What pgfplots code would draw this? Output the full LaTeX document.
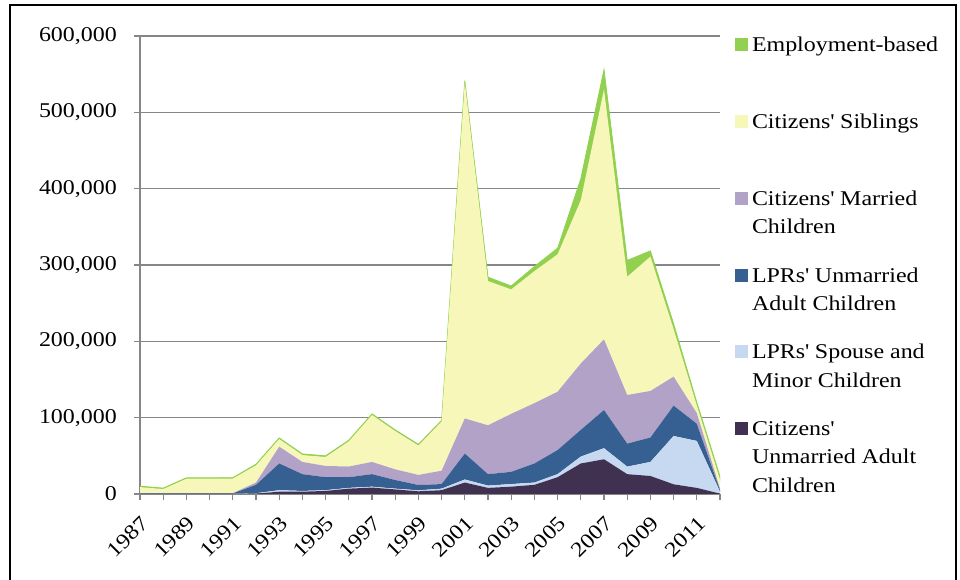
\documentclass[border=0pt]{standalone}
\usepackage{fontspec}
\setmainfont{Liberation Serif}[FakeStretch=1.14]
\usepackage{pgfplots}
\usepackage{pgfplotstable}
\pgfplotsset{compat=1.18}
\definecolor{cEmp}{RGB}{146,208,80}
\definecolor{cSib}{RGB}{247,247,185}
\definecolor{cMar}{RGB}{179,162,199}
\definecolor{cLun}{RGB}{55,96,146}
\definecolor{cLsp}{RGB}{198,217,241}
\definecolor{cCun}{RGB}{64,49,81}
\definecolor{cGrid}{RGB}{134,134,134}

\pgfplotstableread{
year D L B P Y E
1987 0 300 500 200 8000 1200
1988 0 300 500 200 5500 1200
1989 0 300 500 200 19000 1200
1990 0 300 500 200 19000 1200
1991 0 300 500 200 19200 1200
1992 500 500 11000 3000 22500 1500
1993 3000 2000 35000 22000 10000 1500
1994 3000 1000 22000 16000 9000 1500
1995 4000 1000 17000 14700 11800 1500
1996 7000 1000 14000 14000 33000 1500
1997 8400 1200 16400 16000 61500 1500
1998 6000 1000 11300 14000 50200 1500
1999 3500 1300 7000 13200 38500 1500
2000 5000 2000 6000 17500 64500 1500
2001 15000 4000 34000 46000 440000 2500
2002 8000 3000 15000 64000 189000 5000
2003 9600 3400 16000 76000 163000 4500
2004 12000 3000 25000 79000 173000 6000
2005 22000 4000 31600 76400 180000 8000
2006 40000 9000 35000 87000 214000 28000
2007 45500 14500 50000 92600 327400 26000
2008 26000 9800 30200 63700 154900 21400
2009 23600 18400 32000 61000 176000 7500
2010 12700 63300 39700 38000 62300 7000
2011 8000 61500 22500 14000 10000 4000
2012 500 2500 2000 2000 12000 4000
}\data

\newcommand{\q}{\textquotesingle}
\newcommand{\lgd}[1]{\parbox[c][76.7bp][t]{215bp}{\vspace*{-15bp}\strut #1}}
\newcommand{\chartfont}{\fontsize{21bp}{28.3bp}\selectfont}

\begin{document}
\chartfont
\begin{tikzpicture}[x=1bp,y=1bp]
\useasboundingbox (0,0) rectangle (960,580);
\draw[line width=2.5bp] (10,-20) -- (10,575) -- (956,575) -- (956,-20);
\begin{axis}[
  at={(140bp,86bp)}, anchor=south west,
  scale only axis, width=580bp, height=458bp,
  xmin=1987, xmax=2012, ymin=0, ymax=600000,
  stack plots=y,
  axis lines*=left,
  axis line style={cGrid, line width=1.2bp},
  ymajorgrids, grid style={cGrid, line width=1.1bp},
  tick style={cGrid, line width=1.1bp},
  tick align=outside, major tick length=6bp, minor tick length=6bp,
  xtick={1987,1989,...,2011}, minor xtick={1988,1990,...,2012},
  xticklabels={1987,1989,1991,1993,1995,1997,1999,2001,2003,2005,2007,2009,2011},
  ytick={0,100000,200000,300000,400000,500000,600000},
  yticklabels={0,{100,000},{200,000},{300,000},{400,000},{500,000},{600,000}},
  scaled y ticks=false,
  /pgf/number format/assume math mode=true,
  tick label style={font=\chartfont},
  xticklabel style={xshift=10bp, yshift=-15bp, rotate=45, anchor=east},
  yticklabel style={anchor=east, xshift=-10bp},
  reverse legend,
  legend style={at={(1.02586,1.00841)}, anchor=north west, draw=none, fill=none,
    inner sep=0pt, outer sep=0pt, row sep=0pt, column sep=4bp,
    nodes={inner sep=0pt, outer sep=0pt}, font=\chartfont},
  legend cell align=left,
  legend image code/.code={
    \path[fill=none,draw=none] (0bp,-38.35bp) rectangle (13bp,38.35bp);
    \fill[#1,draw=none] (0bp,19bp) rectangle (13bp,32bp);
  },
]
\addplot[fill=cCun, draw=none] table[x=year,y=D]{\data} \closedcycle;
\addlegendentry{\lgd{Citizens\q\\Unmarried Adult\\Children}}
\addplot[fill=cLsp, draw=none] table[x=year,y=L]{\data} \closedcycle;
\addlegendentry{\lgd{LPRs\q{} Spouse and\\Minor Children}}
\addplot[fill=cLun, draw=none] table[x=year,y=B]{\data} \closedcycle;
\addlegendentry{\lgd{LPRs\q{} Unmarried\\Adult Children}}
\addplot[fill=cMar, draw=none] table[x=year,y=P]{\data} \closedcycle;
\addlegendentry{\lgd{Citizens\q{} Married\\Children}}
\addplot[fill=cSib, draw=none] table[x=year,y=Y]{\data} \closedcycle;
\addlegendentry{\lgd{Citizens\q{} Siblings}}
\addplot[fill=cEmp, draw=cEmp, line width=0.8bp] table[x=year,y=E]{\data} \closedcycle;
\addlegendentry{\lgd{Employment-based}}
\end{axis}
\end{tikzpicture}
\end{document}
